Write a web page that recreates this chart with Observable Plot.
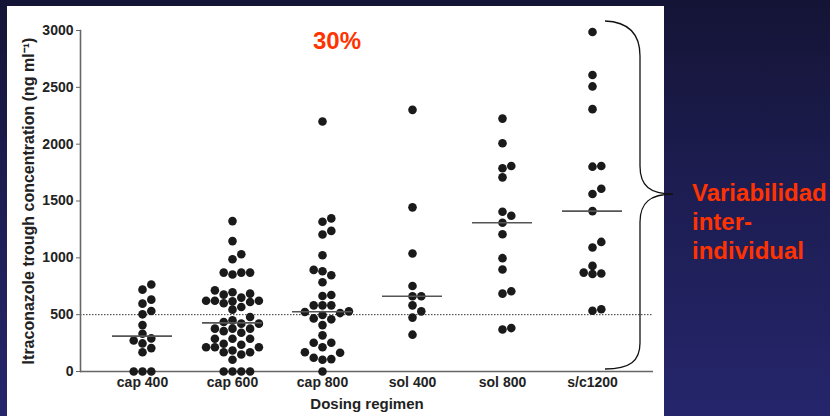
<!DOCTYPE html>
<html>
<head>
<meta charset="utf-8">
<script src="https://cdn.jsdelivr.net/npm/d3@7"></script>
<script src="https://cdn.jsdelivr.net/npm/@observablehq/plot@0.6"></script>
<style>
  html, body { margin: 0; padding: 0; }
  #slide { position: relative; width: 830px; height: 416px; overflow: hidden;
    background: linear-gradient(to bottom, #141436 0%, #1d1d52 45%, #25256c 100%);
    font-family: "Liberation Sans", Arial, sans-serif; }
  #panel { position: absolute; left: 7px; top: 6px; width: 657px; height: 410px; background: #fff; }
  #chart { position: absolute; left: 0; top: 0; }
  #overlay { position: absolute; left: 0; top: 0; }
</style>
</head>
<body>
<div id="slide">
  <div id="panel"></div>
  <div id="chart"></div>
  <svg id="overlay" width="830" height="416">
    <path d="M605,21 C630,22 640,35 640,56 L640,166 C640,186 650,194 673,194 C650,194 640,203 640,222 L640,343 C640,361 630,369 605,369" fill="none" stroke="#111" stroke-width="1.3"/>
    <text x="337" y="49" text-anchor="middle" fill="#ff3300" font-size="24" font-weight="bold" font-family="Liberation Sans, Arial, sans-serif">30%</text>
    <text x="692" y="201" fill="#ff3300" font-size="24" font-weight="bold" font-family="Liberation Sans, Arial, sans-serif">Variabilidad</text>
    <text x="692" y="230" fill="#ff3300" font-size="24" font-weight="bold" font-family="Liberation Sans, Arial, sans-serif">inter-</text>
    <text x="692" y="259" fill="#ff3300" font-size="24" font-weight="bold" font-family="Liberation Sans, Arial, sans-serif">individual</text>
  </svg>
</div>
<script>
const regimens = ["cap 400", "cap 600", "cap 800", "sol 400", "sol 800", "s/c1200"];
const cap400 = [765, 720, 632, 597, 532, 503, 408, 332, 291, 273, 247, 206, 170, 0, 0, 0];
const cap600 = [1323, 1147, 1032, 988, 870, 870, 870, 853, 714, 697, 685, 676, 650, 622, 622, 622, 617, 612, 600, 567, 544, 479, 450, 435, 421, 421, 377, 377, 377, 355, 341, 288, 288, 288, 244, 235, 214, 214, 214, 185, 170, 170, 150, 103, 0, 0, 0, 0];
const cap800 = [2199, 1347, 1317, 1237, 1205, 1023, 894, 882, 847, 785, 673, 664, 582, 582, 582, 529, 523, 514, 497, 467, 459, 408, 318, 253, 253, 214, 170, 165, 121, 109, 103, 0];
const sol400 = [2302, 1444, 1038, 752, 662, 662, 582, 529, 474, 324];
const sol800 = [2225, 2008, 1808, 1788, 1708, 1405, 1370, 1308, 1208, 997, 897, 706, 685, 382, 370];
const sc1200 = [2987, 2608, 2508, 2308, 1808, 1802, 1608, 1561, 1411, 1140, 1091, 929, 870, 862, 858, 547, 535];
const yTicks = [0, 500, 1000, 1500, 2000, 2500, 3000];
const threshold = 500;
const yLabel = "Itraconazole trough concentration (ng ml\u207B\u00B9)";
const xLabel = "Dosing regimen";

const series = [cap400, cap600, cap800, sol400, sol800, sc1200];

const W = 830, H = 416, mL = 80, mR = 177, mT = 30, mB = 45;
const R = 4.3, SPACING = 8.8, MIN_DIST = 8;

// pixel y scale, same as the plot's, used only for the swarm layout
const ys = Plot.scale({y: {domain: [0, 3000], range: [H - mB, mT]}});

function swarm(values) {
  const idx = values.map((v, i) => i).sort((a, b) => values[a] - values[b]);
  const placed = [];
  const cols = new Array(values.length);
  const order = [0, 1, -1, 2, -2, 3, -3, 4, -4, 5, -5];
  for (const i of idx) {
    const py = ys.apply(values[i]);
    for (const c of order) {
      if (placed.every(p => p.col !== c || Math.abs(p.py - py) >= MIN_DIST)) {
        cols[i] = c; placed.push({col: c, py}); break;
      }
    }
  }
  return cols;
}

const rows = [];
series.forEach((vals, k) => {
  const cols = swarm(vals);
  vals.forEach((v, i) => rows.push({regimen: regimens[k], value: v, col: cols[i]}));
});
const medians = regimens.map((r, k) => ({regimen: r, median: d3.median(series[k])}));
const colIds = Array.from(new Set(rows.map(d => d.col))).sort((a, b) => a - b);

const dotMarks = colIds.map(c => Plot.dot(rows.filter(d => d.col === c), {
  x: "regimen", y: "value", r: R, fill: "#1a1a1a", stroke: "none", dx: c * SPACING
}));

const chart = Plot.plot({
  width: W, height: H,
  marginLeft: mL, marginRight: mR, marginTop: mT, marginBottom: mB,
  style: {background: "transparent", fontFamily: "Liberation Sans, Arial, sans-serif", color: "#222", overflow: "visible"},
  x: {type: "band", domain: regimens, paddingInner: 0.335, paddingOuter: 0.34},
  y: {domain: [0, 3000]},
  marks: [
    Plot.ruleY([threshold], {stroke: "#333", strokeWidth: 1, strokeDasharray: "1.5,1.5"}),
    Plot.ruleY([0], {stroke: "#666", strokeWidth: 1.6}),
    Plot.frame({anchor: "left", stroke: "#666", strokeWidth: 1.6}),
    Plot.axisY({ticks: yTicks, tickFormat: d => String(d), tickSize: 4, tickPadding: 3,
      fontSize: 14, fontWeight: "bold", stroke: "#666",
      label: yLabel, labelAnchor: "center", labelArrow: "none", labelOffset: 58}),
    Plot.axisX({tickSize: 0, tickPadding: 6, fontSize: 14, fontWeight: "bold",
      label: xLabel, labelAnchor: "center", labelArrow: "none", labelOffset: 37}),
    ...dotMarks,
    Plot.tickY(medians, {x: "regimen", y: "median", stroke: "#555", strokeWidth: 1.6})
  ]
});
document.getElementById("chart").appendChild(chart);
const yl = chart.querySelector('[aria-label="y-axis label"]');
if (yl) { yl.setAttribute("font-size", "16"); yl.querySelectorAll("text").forEach(t => t.setAttribute("font-size", "16")); }
const xl = chart.querySelector('[aria-label="x-axis label"]');
if (xl) { xl.setAttribute("font-size", "15"); xl.querySelectorAll("text").forEach(t => t.setAttribute("font-size", "15")); }
</script>
</body>
</html>
